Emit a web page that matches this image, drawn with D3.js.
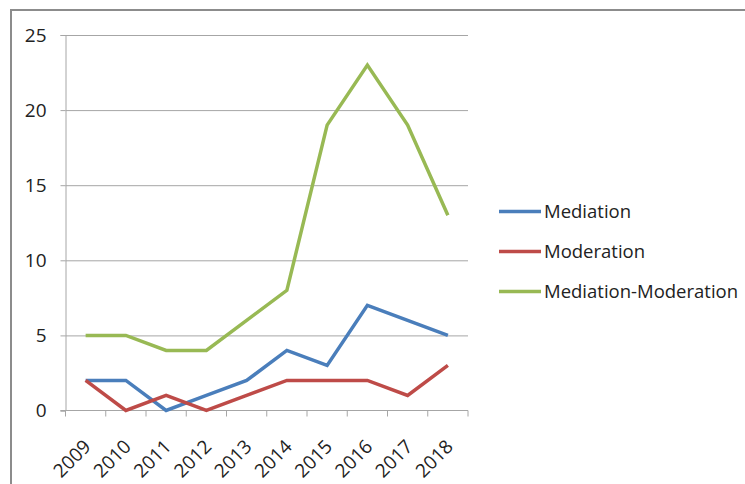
<!DOCTYPE html>
<html>
<head>
<meta charset="utf-8">
<script src="https://cdn.jsdelivr.net/npm/d3@7"></script>
<style>
  body { margin: 0; background: #fff; }
  svg { display: block; }
  text { font-family: "Open Sans", "Noto Sans", sans-serif; fill: #222; }
</style>
</head>
<body>
<div id="chart"></div>
<script>
// Chart data
const years = ['2009', '2010', '2011', '2012', '2013', '2014', '2015', '2016', '2017', '2018'];
const mediation = [2, 2, 0, 1, 2, 4, 3, 7, 6, 5];
const moderation = [2, 0, 1, 0, 1, 2, 2, 2, 1, 3];
const medMod = [5, 5, 4, 4, 6, 8, 19, 23, 19, 13];
const yTicks = [0, 5, 10, 15, 20, 25];

const series = [
  { name: 'Mediation', values: mediation, color: '#4a7ebb' },
  { name: 'Moderation', values: moderation, color: '#be4b48' },
  { name: 'Mediation-Moderation', values: medMod, color: '#98b954' }
];

const W = 745, H = 484;
const plot = { left: 65.5, right: 468, top: 35, bottom: 410.5 };

const svg = d3.select('#chart').append('svg')
  .attr('width', W)
  .attr('height', H);

// outer frame (partly cut off by the window)
svg.append('path')
  .attr('d', `M11,${H + 5}V10H${W + 5}`)
  .attr('fill', 'none')
  .attr('stroke', '#8c8c8c')
  .attr('stroke-width', 2);

const x = d3.scaleBand()
  .domain(years)
  .range([plot.left, plot.right]);

const y = d3.scaleLinear()
  .domain([0, 25])
  .range([plot.bottom, plot.top]);

// gridlines + y axis
const yAxis = svg.append('g')
  .attr('transform', `translate(${plot.left},0)`)
  .call(d3.axisLeft(y).tickValues(yTicks).tickSize(5).tickPadding(14))
  .call(g => g.select('.domain').attr('stroke', '#a6a6a6'));
yAxis.selectAll('.tick line').attr('stroke', '#a6a6a6');
yAxis.selectAll('.tick text').style('font-size', '19px').attr('fill', '#222');
yAxis.selectAll('.tick')
  .filter(d => d > 0)
  .append('line')
  .attr('x1', 0)
  .attr('x2', plot.right - plot.left)
  .attr('stroke', '#a6a6a6');

// x axis with ticks on band boundaries
const xg = svg.append('g');
xg.append('line')
  .attr('x1', plot.left - 5).attr('x2', plot.right)
  .attr('y1', plot.bottom).attr('y2', plot.bottom)
  .attr('stroke', '#a6a6a6');
xg.selectAll('.xt')
  .data(years.concat(['end']))
  .enter().append('line')
  .attr('x1', d => d === 'end' ? plot.right : x(d))
  .attr('x2', d => d === 'end' ? plot.right : x(d))
  .attr('y1', plot.bottom).attr('y2', plot.bottom + 6)
  .attr('stroke', '#a6a6a6');
xg.selectAll('.xl')
  .data(years)
  .enter().append('text')
  .attr('transform', d => `translate(${x(d) + x.bandwidth() / 2 - 3},${plot.bottom + 28}) rotate(-45)`)
  .attr('text-anchor', 'end')
  .attr('dy', '0.7em')
  .style('font-size', '19px')
  .text(d => d);

// lines
const line = d3.line()
  .x((d, i) => x(years[i]) + x.bandwidth() / 2)
  .y(d => y(d));

svg.selectAll('.series')
  .data(series)
  .enter().append('path')
  .attr('d', d => line(d.values))
  .attr('fill', 'none')
  .attr('stroke', d => d.color)
  .attr('stroke-width', 3.5)
  .attr('stroke-linejoin', 'miter');

// legend
const legend = svg.selectAll('.legend')
  .data(series)
  .enter().append('g')
  .attr('transform', (d, i) => `translate(499,${211.5 + i * 40})`);
legend.append('line')
  .attr('x1', 0).attr('x2', 42)
  .attr('stroke', d => d.color)
  .attr('stroke-width', 3.5);
legend.append('text')
  .attr('x', 45)
  .attr('dy', '0.35em')
  .style('font-size', '18.5px')
  .text(d => d.name);
</script>
</body>
</html>
